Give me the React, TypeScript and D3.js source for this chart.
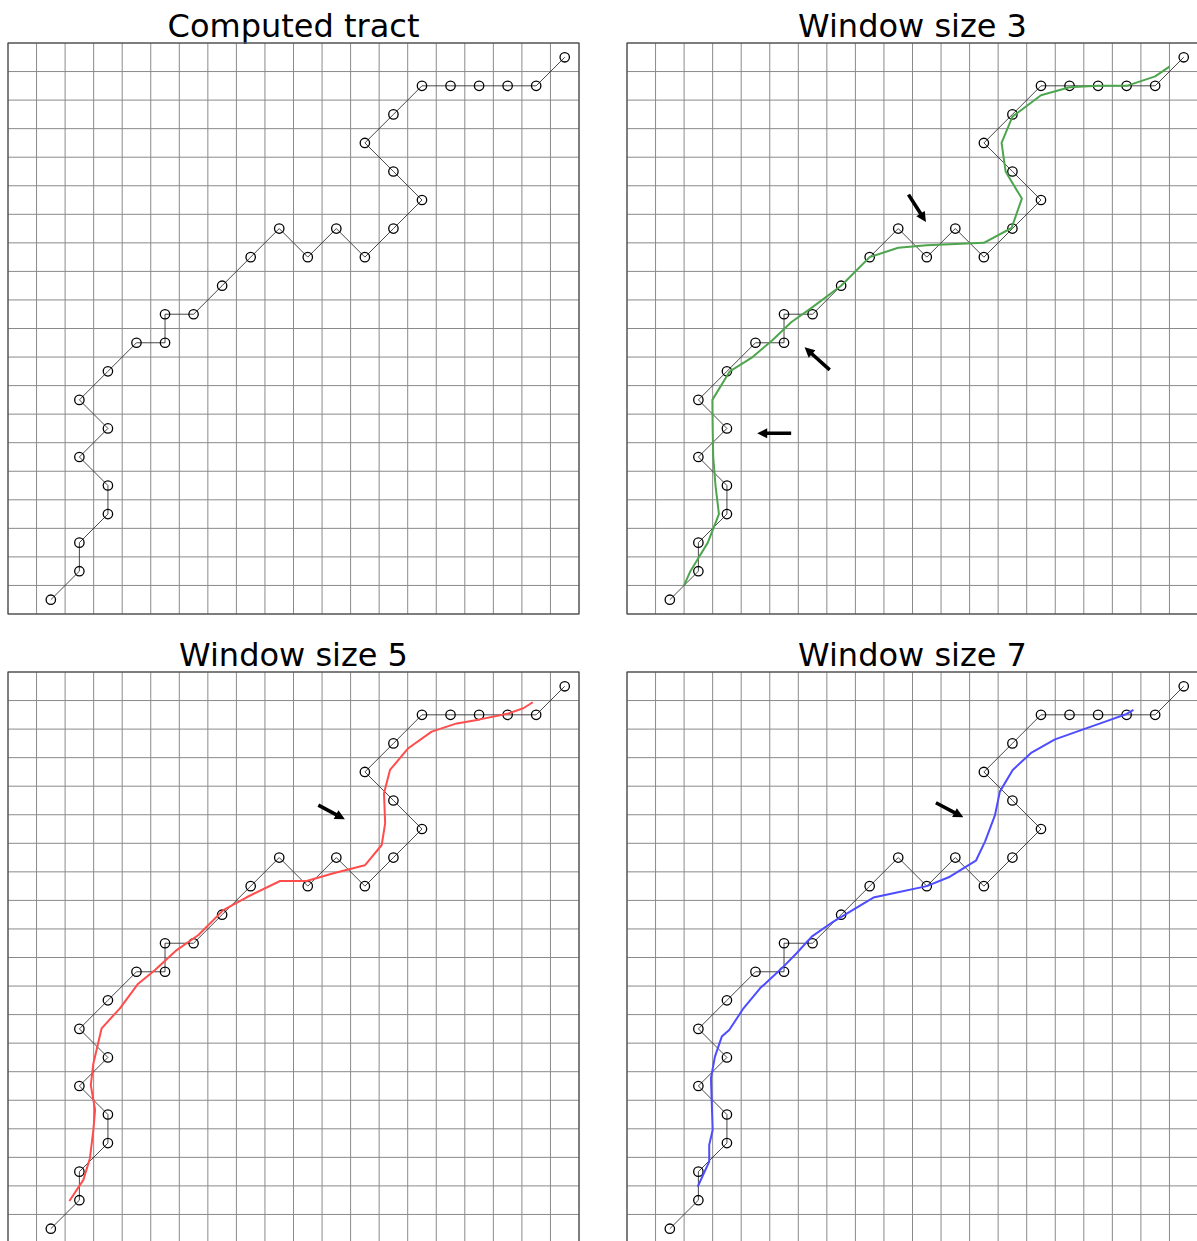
import React from "react";
import * as d3 from "d3";

// Computed tract: cell indices (column, row), row 0 at the bottom
const tractCol = [1, 2, 2, 3, 3, 2, 3, 2, 3, 4, 5, 5, 6, 7, 8, 9, 10, 11, 12, 13, 14, 13, 12, 13, 14, 15, 16, 17, 18, 19];
const tractRow = [0, 1, 2, 3, 4, 5, 6, 7, 8, 9, 9, 10, 10, 11, 12, 13, 12, 13, 12, 13, 14, 15, 16, 17, 18, 18, 18, 18, 18, 19];

// Smoothed tracts (column, row)
const smooth3: [number, number][] = [
  [1.5, 0.5], [1.72, 1.0], [2.33, 2.0], [2.72, 3.0], [2.6, 4.0], [2.52, 5.0], [2.5, 6.0], [2.49, 7.0],
  [3.1, 8.0], [3.9, 8.5], [4.6, 9.1], [5.25, 9.72], [6.0, 10.25], [7.0, 11.0], [8.0, 12.0], [9.0, 12.33],
  [10.0, 12.42], [11.0, 12.46], [12.0, 12.5], [12.97, 13.02], [13.33, 14.05], [12.76, 15.0], [12.62, 16.0],
  [13.0, 16.92], [14.0, 17.67], [15.0, 17.95], [16.0, 18.0], [17.0, 18.0], [18.0, 18.33], [18.5, 18.67],
];
const smooth5: [number, number][] = [
  [1.65, 0.97], [2.14, 1.71], [2.37, 2.47], [2.49, 3.46], [2.55, 4.16], [2.4, 5.03], [2.49, 5.79],
  [2.78, 7.02], [3.42, 7.72], [4.04, 8.56], [4.65, 9.06], [5.41, 9.76], [6.17, 10.29], [7.04, 11.16],
  [7.86, 11.61], [9.03, 12.18], [9.96, 12.18], [10.9, 12.45], [12.0, 12.73], [12.59, 13.44], [12.71, 14.2],
  [12.67, 15.25], [12.88, 16.07], [13.52, 16.83], [14.34, 17.41], [15.22, 17.7], [16.03, 17.84],
  [17.03, 18.05], [17.55, 18.23], [17.88, 18.44],
];
const smooth7: [number, number][] = [
  [1.975, 1.47], [2.38, 2.35], [2.38, 2.93], [2.5, 3.46], [2.47, 4.39], [2.44, 5.27], [2.58, 6.03],
  [2.82, 6.73], [3.08, 6.96], [3.58, 7.72], [4.16, 8.42], [4.92, 9.12], [5.44, 9.65], [5.97, 10.23],
  [6.73, 10.76], [8.13, 11.6], [8.83, 11.75], [10.0, 12.0], [10.81, 12.33], [11.72, 12.89], [12.04, 13.56],
  [12.39, 14.49], [12.56, 15.31], [13.01, 16.07], [13.67, 16.68], [14.49, 17.14], [15.48, 17.49],
  [16.3, 17.78], [17.0, 18.03], [17.24, 18.17],
];

const panelTitles = ["Computed tract", "Window size 3", "Window size 5", "Window size 7"];
const panelSmooth = [null, smooth3, smooth5, smooth7];
const panelColors = ["none", "#4da64d", "#ff4d4d", "#4d4dff"];

// Arrows: [tailCol, tailRow, tipCol, tipRow]
const arrowsPanel2 = [
  [9.36, 14.19, 9.97, 13.23],
  [6.6, 8.05, 5.72, 8.84],
  [5.25, 5.83, 4.06, 5.83],
];
const arrowsPanel3 = [[10.37, 14.84, 11.3, 14.34]];
const arrowsPanel4 = [[10.32, 14.92, 11.28, 14.41]];
const panelArrows = [[], arrowsPanel2, arrowsPanel3, arrowsPanel4];

const gridCount = 20;
const W = 571;
const origins: [number, number][] = [[8, 43], [627, 43], [8, 672], [627, 672]];

function arrowPath(x1: number, y1: number, x2: number, y2: number) {
  const dx = x2 - x1, dy = y2 - y1;
  const len = Math.hypot(dx, dy);
  const ux = dx / len, uy = dy / len;
  const nx = -uy, ny = ux;
  const sw = 1.8, hw = 5, hl = 10;
  const bx = x2 - ux * hl, by = y2 - uy * hl;
  const pts = [
    [x1 + nx * sw, y1 + ny * sw],
    [bx + nx * sw, by + ny * sw],
    [bx + nx * hw, by + ny * hw],
    [x2, y2],
    [bx - nx * hw, by - ny * hw],
    [bx - nx * sw, by - ny * sw],
    [x1 - nx * sw, y1 - ny * sw],
  ];
  return "M" + pts.map((p) => p[0].toFixed(2) + "," + p[1].toFixed(2)).join("L") + "Z";
}

function Panel({ idx }: { idx: number }) {
  const [ox, oy] = origins[idx];
  const x = d3.scaleLinear().domain([-0.5, 19.5]).range([0, W]);
  const y = d3.scaleLinear().domain([-0.5, 19.5]).range([W, 0]);
  const gridVals = d3.range(gridCount + 1).map((k) => k - 0.5);
  const tractPts: [number, number][] = tractCol.map((c, i) => [x(c), y(tractRow[i])]);
  const line = d3.line<[number, number]>();
  const sm = panelSmooth[idx];
  return (
    <g transform={`translate(${ox},${oy})`}>
      <text x={W / 2} y={-6} textAnchor="middle" fontFamily="DejaVu Sans" fontSize={32} fill="#000">
        {panelTitles[idx]}
      </text>
      {gridVals.map((v, k) => (
        <line key={"gx" + k} x1={x(v)} x2={x(v)} y1={0} y2={W} stroke="#8a8a8a" strokeWidth={1} />
      ))}
      {gridVals.map((v, k) => (
        <line key={"gy" + k} x1={0} x2={W} y1={y(v)} y2={y(v)} stroke="#8a8a8a" strokeWidth={1} />
      ))}
      <rect x={0} y={0} width={W} height={W} fill="none" stroke="#444" strokeWidth={1.1} />
      <path d={line(tractPts) || ""} fill="none" stroke="#333" strokeWidth={0.9} />
      {tractPts.map((p, i) => (
        <circle key={"c" + i} cx={p[0]} cy={p[1]} r={4.7} fill="none" stroke="#000" strokeWidth={1.3} />
      ))}
      {sm && (
        <path
          d={line(sm.map((p) => [x(p[0]), y(p[1])] as [number, number])) || ""}
          fill="none"
          stroke={panelColors[idx]}
          strokeWidth={2}
          strokeLinejoin="round"
        />
      )}
      {panelArrows[idx].map((a, k) => (
        <path key={"a" + k} d={arrowPath(x(a[0]), y(a[1]), x(a[2]), y(a[3]))} fill="#000" />
      ))}
    </g>
  );
}

export default function App() {
  return (
    <div style={{ position: "absolute", left: 0, top: 0 }}>
      <svg width={1197} height={1241} style={{ display: "block", background: "#fff" }}>
        <rect x={0} y={0} width={1197} height={1241} fill="#fff" />
        {[0, 1, 2, 3].map((i) => (
          <Panel key={i} idx={i} />
        ))}
      </svg>
    </div>
  );
}
